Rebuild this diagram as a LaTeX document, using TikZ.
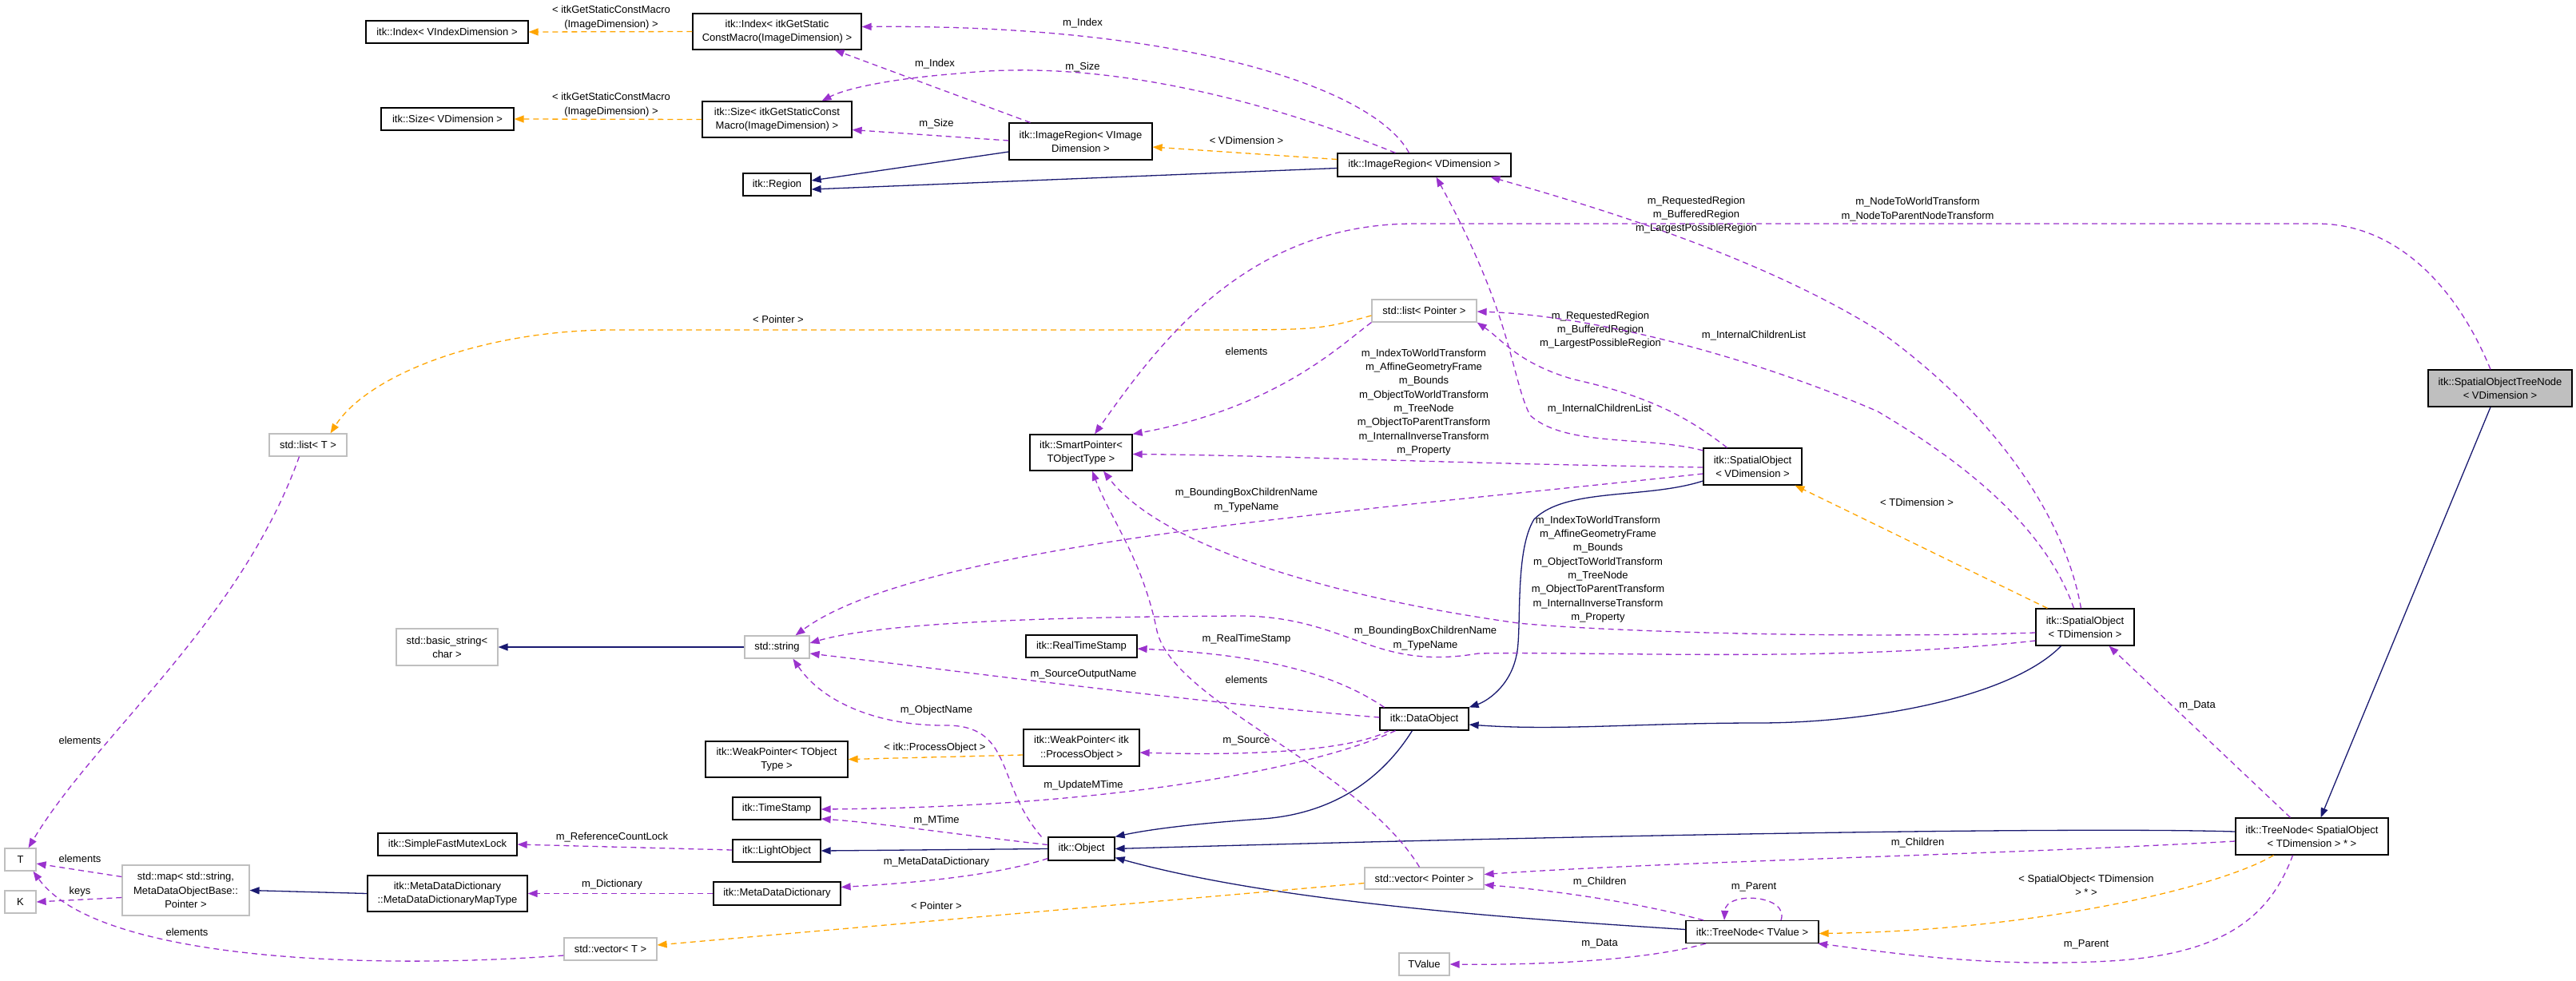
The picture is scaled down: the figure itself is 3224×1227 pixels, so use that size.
\documentclass[tikz,border=0pt]{standalone}
\usepackage{fontspec}
\setmainfont{Liberation Sans}
\usetikzlibrary{arrows.meta}
\definecolor{navyc}{HTML}{191970}
\definecolor{purp}{HTML}{9A32CD}
\definecolor{orng}{HTML}{FFA500}
\definecolor{gbord}{HTML}{BFBFBF}
\tikzset{
  cls/.style={draw=black,fill=white,line width=1.2pt,align=center,inner sep=0pt,font=\fontsize{13}{17.3}\selectfont},
  ext/.style={cls,draw=gbord},
  lbl/.style={align=center,inner sep=0pt,font=\fontsize{13}{17.3}\selectfont},
  tip/.style={-{Triangle[length=12pt,width=9pt]}},
  inh/.style={tip,draw=navyc,line width=1.3pt},
  tpl/.style={tip,draw=orng,line width=1.3pt,dash pattern=on 7pt off 5pt},
  use/.style={tip,draw=purp,line width=1.3pt,dash pattern=on 7pt off 5pt},
}
\begin{document}
\begin{tikzpicture}[x=1pt,y=-1pt]
\useasboundingbox (0,0) rectangle (3224,1227);
% nodes
\node[cls,minimum width=203pt,minimum height=28pt] (idxV) at (559.5,40) {itk::Index< VIndexDimension >};
\node[cls,minimum width=211pt,minimum height=45pt] (idxI) at (972.5,39.5) {itk::Index< itkGetStatic\\ConstMacro(ImageDimension) >};
\node[cls,minimum width=166pt,minimum height=28pt] (sizeV) at (560,149) {itk::Size< VDimension >};
\node[cls,minimum width=187pt,minimum height=45pt] (sizeI) at (972.5,149.5) {itk::Size< itkGetStaticConst\\Macro(ImageDimension) >};
\node[cls,minimum width=85pt,minimum height=28pt] (region) at (972.5,231) {itk::Region};
\node[cls,minimum width=179pt,minimum height=46pt] (imgRegVI) at (1352.5,177) {itk::ImageRegion< VImage\\Dimension >};
\node[cls,minimum width=217pt,minimum height=29pt] (imgRegV) at (1782.5,206.5) {itk::ImageRegion< VDimension >};
\node[ext,minimum width=131pt,minimum height=28pt] (stdlistP) at (1782.5,389) {std::list< Pointer >};
\node[ext,minimum width=97pt,minimum height=28pt] (stdlistT) at (385.5,557) {std::list< T >};
\node[cls,minimum width=128pt,minimum height=45pt] (smartP) at (1353,566.5) {itk::SmartPointer<\\TObjectType >};
\node[cls,minimum width=123pt,minimum height=46pt] (spatialV) at (2193.5,584) {itk::SpatialObject\\< VDimension >};
\node[cls,minimum width=123pt,minimum height=46pt] (spatialT) at (2609.5,785) {itk::SpatialObject\\< TDimension >};
\node[cls,fill=gbord,minimum width=180pt,minimum height=46pt] (SOTN) at (3129,486) {itk::SpatialObjectTreeNode\\< VDimension >};
\node[ext,minimum width=127pt,minimum height=46pt] (basicStr) at (559.5,810) {std::basic\_string<\\char >};
\node[ext,minimum width=81pt,minimum height=28pt] (stdstring) at (972.5,810) {std::string};
\node[cls,minimum width=139pt,minimum height=28pt] (realTS) at (1353.5,809) {itk::RealTimeStamp};
\node[cls,minimum width=111pt,minimum height=28pt] (dataObj) at (1782.5,900) {itk::DataObject};
\node[cls,minimum width=178pt,minimum height=45pt] (weakPT) at (972,950.5) {itk::WeakPointer< TObject\\Type >};
\node[cls,minimum width=145pt,minimum height=46pt] (weakPP) at (1353.5,936) {itk::WeakPointer< itk\\::ProcessObject >};
\node[cls,minimum width=110pt,minimum height=28pt] (timeStamp) at (972,1012) {itk::TimeStamp};
\node[cls,minimum width=174pt,minimum height=28pt] (sfml) at (560,1057) {itk::SimpleFastMutexLock};
\node[cls,minimum width=110pt,minimum height=28pt] (lightObj) at (972,1065) {itk::LightObject};
\node[cls,minimum width=83pt,minimum height=29pt] (object) at (1353.5,1062.5) {itk::Object};
\node[ext,minimum width=39pt,minimum height=28pt] (T) at (25.5,1076) {T};
\node[ext,minimum width=39pt,minimum height=28pt] (K) at (25.5,1129) {K};
\node[ext,minimum width=159pt,minimum height=63pt] (stdmap) at (232.5,1114.5) {std::map< std::string,\\MetaDataObjectBase::\\Pointer >};
\node[cls,minimum width=200pt,minimum height=45pt] (mdmt) at (560,1118.5) {itk::MetaDataDictionary\\::MetaDataDictionaryMapType};
\node[cls,minimum width=159pt,minimum height=29pt] (mdd) at (972.5,1118.5) {itk::MetaDataDictionary};
\node[ext,minimum width=116pt,minimum height=28pt] (stdvecT) at (764,1188) {std::vector< T >};
\node[ext,minimum width=149pt,minimum height=27pt] (stdvecP) at (1782.5,1099.5) {std::vector< Pointer >};
\node[cls,minimum width=191pt,minimum height=46pt] (treeNodeS) at (2893.5,1047) {itk::TreeNode< SpatialObject\\< TDimension > * >};
\node[cls,minimum width=166pt,minimum height=28pt] (treeNodeT) at (2193,1166.5) {itk::TreeNode< TValue >};
\node[ext,minimum width=63pt,minimum height=28pt] (tvalue) at (1782.5,1207) {TValue};

% inheritance
\draw[inh] ([yshift=-13pt]imgRegVI.west) -- ([yshift=5pt]region.east);
\draw[inh] ([yshift=-4pt]imgRegV.west) -- ([yshift=-6pt]region.east);
\draw[inh] ([yshift=-18pt]spatialV.west) .. controls (2060,625) and (1960,610) .. (1920,650) .. controls (1895,690) and (1905,790) .. (1898,820) .. controls (1890,860) and (1860,878) .. (dataObj.north east);
\draw[inh] ([xshift=-30pt]spatialT.south) .. controls (2520,870) and (2350,905) .. (2200,905) .. controls (2050,905) and (1950,915) .. ([yshift=-7pt]dataObj.east);
\draw[inh] ([xshift=-15pt]dataObj.south) .. controls (1720,990) and (1650,1020) .. (1580,1025) .. controls (1480,1032) and (1430,1040) .. (object.north east);
\draw[inh] (object.west) -- (lightObj.east);
\draw[inh] ([yshift=6pt]treeNodeS.west) .. controls (2600,1035) and (2000,1045) .. (object.east);
\draw[inh] ([yshift=3pt]treeNodeT.west) .. controls (1900,1150) and (1600,1130) .. ([yshift=-11pt]object.east);
\draw[inh] ([xshift=-12pt]SOTN.south) -- ([xshift=11pt]treeNodeS.north);
\draw[inh] (stdstring.west) -- (basicStr.east);
\draw[inh] (mdmt.west) -- (stdmap.east);

% template
\draw[tpl] (idxI.west) -- (idxV.east);
\node[lbl] (l1) at (765,22) {< itkGetStaticConstMacro\\(ImageDimension) >};
\draw[tpl] (sizeI.west) -- (sizeV.east);
\node[lbl] (l2) at (765,131) {< itkGetStaticConstMacro\\(ImageDimension) >};
\draw[tpl] ([yshift=7pt]imgRegV.west) -- ([yshift=-7pt]imgRegVI.east);
\node[lbl] (l3) at (1560,176) {< VDimension >};
\draw[tpl] ([yshift=-6pt]stdlistP.west) .. controls (1650,413) .. (1500,413) -- (760,413) .. controls (600,415) and (460,470) .. ([xshift=28pt]stdlistT.north);
\node[lbl] (l4) at (974,400) {< Pointer >};
\draw[tpl] ([yshift=-9pt]weakPP.west) -- (weakPT.east);
\node[lbl] (l5) at (1170,936) {< itk::ProcessObject >};
\draw[tpl] ([yshift=-6pt]stdvecP.west) -- ([yshift=5pt]stdvecT.east);
\node[lbl] (l6) at (1172,1134) {< Pointer >};
\draw[tpl] ([xshift=-47pt]spatialT.north) -- ([xshift=53pt]spatialV.south);
\node[lbl] (l7) at (2399,629) {< TDimension >};
\draw[tpl] ([xshift=-48pt]treeNodeS.south) .. controls (2780,1110) and (2550,1165) .. ([yshift=-2pt]treeNodeT.east);
\node[lbl] (l8) at (2611,1108) {< SpatialObject< TDimension\\> * >};

% usage
\draw[use] ([xshift=-19pt]imgRegV.north) .. controls (1720,110) and (1480,30) .. ([yshift=6pt]idxI.east);
\node[lbl] (u1) at (1355,29) {m\_Index};
\draw[use] ([xshift=-63pt]imgRegVI.north) -- ([xshift=72pt]idxI.south);
\node[lbl] (u2) at (1170,80) {m\_Index};
\draw[use] ([xshift=-36pt]imgRegV.north) .. controls (1620,140) and (1400,70) .. (1200,92) .. controls (1120,98) and (1060,110) .. ([xshift=56pt]sizeI.north);
\node[lbl] (u3) at (1355,84) {m\_Size};
\draw[use] ([yshift=1pt]imgRegVI.west) -- ([yshift=-13pt]sizeI.east);
\node[lbl] (u4) at (1172,155) {m\_Size};
\draw[use] ([yshift=20pt]spatialV.west) .. controls (2060,545) and (1960,560) .. (1915,520) .. controls (1890,470) and (1895,400) .. ([xshift=15pt]imgRegV.south);
\node[lbl] (u5) at (2003,413) {m\_RequestedRegion\\m\_BufferedRegion\\m\_LargestPossibleRegion};
\draw[use] ([xshift=-5pt]spatialT.north) .. controls (2585,650) and (2500,520) .. (2350,413) .. controls (2200,320) and (2000,260) .. ([xshift=83pt]imgRegV.south);
\node[lbl] (u6) at (2123,269) {m\_RequestedRegion\\m\_BufferedRegion\\m\_LargestPossibleRegion};
\draw[use] ([xshift=-14pt]spatialT.north) .. controls (2560,660) and (2460,580) .. (2350,515) .. controls (2200,450) and (2000,395) .. ([yshift=-1pt]stdlistP.east);
\node[lbl] (u7) at (2195,420) {m\_InternalChildrenList};
\draw[use] ([xshift=-32pt]spatialV.north) .. controls (2110,520) and (2060,495) .. (1970,475) .. controls (1900,455) and (1880,425) .. (stdlistP.south east);
\node[lbl] (u8) at (2002,512) {m\_InternalChildrenList};
\draw[use] ([xshift=-12pt]SOTN.north) .. controls (3075,360) and (3000,280) .. (2900,280) -- (1770,280) .. controls (1560,280) and (1450,430) .. ([xshift=17pt]smartP.north);
\node[lbl] (u9) at (2400,262) {m\_NodeToWorldTransform\\m\_NodeToParentNodeTransform};
\draw[use] (stdlistP.south west) .. controls (1680,430) and (1600,510) .. (smartP.north east);
\node[lbl] (u10) at (1560,440) {elements};
\draw[use] ([xshift=-11pt]stdlistT.south) .. controls (300,780) and (120,920) .. ([xshift=10pt]T.north);
\node[lbl] (u11) at (100,927) {elements};
\draw[use] ([yshift=-1pt]spatialV.west) .. controls (1800,580) and (1600,570) .. ([yshift=-2pt]smartP.east);
\node[lbl] (u12) at (1782,503.5) {m\_IndexToWorldTransform\\m\_AffineGeometryFrame\\m\_Bounds\\m\_ObjectToWorldTransform\\m\_TreeNode\\m\_ObjectToParentTransform\\m\_InternalInverseTransform\\m\_Property};
\draw[use] ([yshift=-7pt]spatialT.west) .. controls (2300,800) and (2000,790) .. (1900,780) .. controls (1650,745) and (1450,680) .. ([xshift=28pt]smartP.south);
\node[lbl] (u13) at (2000,712.5) {m\_IndexToWorldTransform\\m\_AffineGeometryFrame\\m\_Bounds\\m\_ObjectToWorldTransform\\m\_TreeNode\\m\_ObjectToParentTransform\\m\_InternalInverseTransform\\m\_Property};
\draw[use] ([yshift=-9pt]spatialV.west) .. controls (1700,640) and (1150,680) .. ([xshift=23pt]stdstring.north);
\node[lbl] (u14) at (1560,626) {m\_BoundingBoxChildrenName\\m\_TypeName};
\draw[use] ([yshift=-17pt]spatialT.west) .. controls (2300,830) and (2000,815) .. (1850,818) .. controls (1720,840) and (1690,775) .. (1560,771) .. controls (1300,772) and (1100,780) .. ([yshift=5pt]stdstring.east);
\node[lbl] (u15) at (1784,799) {m\_BoundingBoxChildrenName\\m\_TypeName};
\draw[use] ([yshift=2pt]dataObj.west) .. controls (1500,880) and (1200,840) .. ([yshift=-8pt]stdstring.east);
\node[lbl] (u16) at (1356,844) {m\_SourceOutputName};
\draw[use] ([xshift=-50pt]dataObj.north) .. controls (1680,850) and (1600,820) .. ([yshift=-3pt]realTS.east);
\node[lbl] (u17) at (1560,800) {m\_RealTimeStamp};
\draw[use] ([xshift=-6pt]stdvecP.north) .. controls (1700,960) and (1470,880) .. (1448,790) .. controls (1430,700) and (1390,650) .. ([xshift=14pt]smartP.south);
\node[lbl] (u18) at (1560,851) {elements};
\draw[use] ([xshift=-8pt]object.north west) .. controls (1245,980) and (1270,906) .. (1180,908) .. controls (1100,908) and (1030,880) .. ([xshift=20pt]stdstring.south);
\node[lbl] (u19) at (1172,889) {m\_ObjectName};
\draw[use] ([xshift=-44pt]dataObj.south) .. controls (1680,945) and (1520,945) .. ([yshift=-6pt]weakPP.east);
\node[lbl] (u20) at (1560,927) {m\_Source};
\draw[use] ([xshift=-36pt]dataObj.south) .. controls (1650,960) and (1400,1010) .. ([yshift=-1pt]timeStamp.east);
\node[lbl] (u21) at (1356,983) {m\_UpdateMTime};
\draw[use] ([yshift=5pt]object.west) .. controls (1200,1045) and (1100,1030) .. ([yshift=-13pt]timeStamp.east);
\node[lbl] (u22) at (1172,1027) {m\_MTime};
\draw[use] ([yshift=1pt]lightObj.west) -- (sfml.east);
\node[lbl] (u23) at (766,1048) {m\_ReferenceCountLock};
\draw[use] ([yshift=-12pt]object.west) .. controls (1250,1095) and (1150,1105) .. ([yshift=8pt]mdd.east);
\node[lbl] (u24) at (1172,1079) {m\_MetaDataDictionary};
\draw[use] (mdd.west) -- (mdmt.east);
\node[lbl] (u25) at (766,1107) {m\_Dictionary};
\draw[use] ([yshift=17pt]stdmap.west) -- ([yshift=-5pt]T.east);
\node[lbl] (u26) at (100,1075) {elements};
\draw[use] ([yshift=-9pt]stdmap.west) -- (K.east);
\node[lbl] (u27) at (100,1116) {keys};
\draw[use] ([yshift=-8pt]stdvecT.west) .. controls (450,1215) and (120,1200) .. ([xshift=16pt]T.south);
\node[lbl] (u28) at (234,1167) {elements};
\draw[use] ([yshift=-6pt]treeNodeS.west) .. controls (2500,1070) and (2100,1078) .. ([yshift=5pt]stdvecP.east);
\node[lbl] (u29) at (2400,1055) {m\_Children};
\draw[use] ([xshift=-61pt]treeNodeT.north) .. controls (2050,1130) and (1950,1115) .. ([yshift=-8pt]stdvecP.east);
\node[lbl] (u30) at (2002,1104) {m\_Children};
\draw[use] ([xshift=36pt]treeNodeT.north) .. controls (2240,1120) and (2160,1115) .. ([xshift=-35pt]treeNodeT.north);
\node[lbl] (u31) at (2195,1110) {m\_Parent};
\draw[use] ([xshift=-24pt]treeNodeS.south) .. controls (2840,1150) and (2780,1195) .. (2640,1203) .. controls (2480,1212) and (2350,1190) .. ([xshift=82pt]treeNodeT.south);
\node[lbl] (u32) at (2611,1182) {m\_Parent};
\draw[use] ([xshift=-27pt]treeNodeS.north) -- ([xshift=30pt]spatialT.south);
\node[lbl] (u33) at (2750,883) {m\_Data};
\draw[use] ([xshift=-58pt]treeNodeT.south) .. controls (2050,1205) and (1900,1208) .. (tvalue.east);
\node[lbl] (u34) at (2002,1181) {m\_Data};
\end{tikzpicture}
\end{document}
